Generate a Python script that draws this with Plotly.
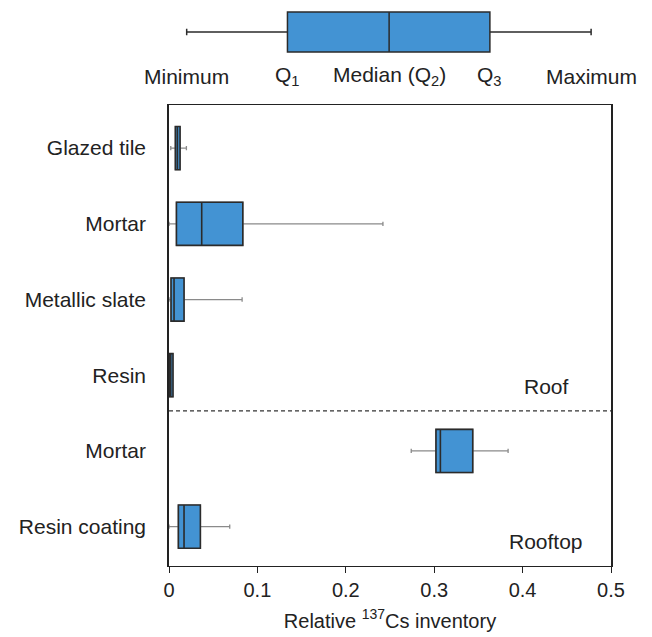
import plotly.graph_objects as go

categories = ["Glazed tile", "Mortar", "Metallic slate", "Resin", "Mortar", "Resin coating"]
q_min = [0.002, 0.000, 0.000, 0.000, 0.274, 0.000]
q1 = [0.0072, 0.0084, 0.0023, 0.0002, 0.302, 0.0106]
median = [0.0095, 0.037, 0.0057, 0.002, 0.307, 0.017]
q3 = [0.0125, 0.0835, 0.0170, 0.0045, 0.3436, 0.0355]
q_max = [0.0197, 0.242, 0.0827, 0.0045, 0.3836, 0.0687]

legend_stats = [0.02, 0.134, 0.249, 0.363, 0.4775]  # min, Q1, median, Q3, max (schematic)
legend_labels = ["Minimum", "Q<sub>1</sub>", "Median (Q<sub>2</sub>)", "Q<sub>3</sub>", "Maximum"]

xticks = [0, 0.1, 0.2, 0.3, 0.4, 0.5]
xtick_text = ["0", "0.1", "0.2", "0.3", "0.4", "0.5"]

BLUE = "#4393d3"
DARK = "#2b2b2b"
GRAY = "#8a8a8a"
TXT = "#222222"
FONT = "Liberation Sans, Arial, sans-serif"

fig = go.Figure()
pos = list(range(len(categories)))

for i in pos:
    # whiskers (gray)
    fig.add_trace(go.Box(
        orientation="h", y=[i], q1=[q1[i]], median=[median[i]], q3=[q3[i]],
        lowerfence=[q_min[i]], upperfence=[q_max[i]], width=0.57, whiskerwidth=0.1,
        fillcolor=BLUE, line=dict(color=GRAY, width=1.3), showlegend=False,
        hoverinfo="skip", xaxis="x", yaxis="y"))
    # box (dark outline)
    fig.add_trace(go.Box(
        orientation="h", y=[i], q1=[q1[i]], median=[median[i]], q3=[q3[i]],
        lowerfence=[q1[i]], upperfence=[q3[i]], width=0.57, whiskerwidth=0,
        fillcolor=BLUE, line=dict(color=DARK, width=1.6), showlegend=False,
        hoverinfo="skip", xaxis="x", yaxis="y"))

# schematic legend box
fig.add_trace(go.Box(
    orientation="h", y=[0], q1=[legend_stats[1]], median=[legend_stats[2]], q3=[legend_stats[3]],
    lowerfence=[legend_stats[0]], upperfence=[legend_stats[4]], width=1.667, whiskerwidth=0.16,
    fillcolor=BLUE, line=dict(color=DARK, width=1.5), showlegend=False,
    hoverinfo="skip", xaxis="x2", yaxis="y2"))

annotations = []
for v, lab in zip(legend_stats, legend_labels):
    annotations.append(dict(x=v, y=0.878, xref="x2", yref="paper", text=lab, showarrow=False,
                            xanchor="center", yanchor="middle",
                            font=dict(size=21, color=TXT, family=FONT)))
annotations.append(dict(x=0.4266, y=3.15, xref="x", yref="y", text="Roof", showarrow=False,
                        font=dict(size=21, color=TXT, family=FONT)))
annotations.append(dict(x=0.4266, y=5.2, xref="x", yref="y", text="Rooftop", showarrow=False,
                        font=dict(size=21, color=TXT, family=FONT)))

fig.update_layout(
    width=652, height=637,
    margin=dict(l=161, r=49, t=0, b=79),
    paper_bgcolor="white", plot_bgcolor="white",
    boxmode="overlay",
    font=dict(family=FONT, size=21, color=TXT),
    xaxis=dict(domain=[0, 1], range=[0, 0.5], tickvals=xticks, ticktext=xtick_text,
               ticks="outside", ticklen=6, tickcolor=TXT, showline=True, linecolor=TXT,
               linewidth=1.3, mirror=True, showgrid=False, zeroline=False, automargin=False,
               title=dict(text="Relative <sup>137</sup>Cs inventory", font=dict(size=20), standoff=13),
               tickfont=dict(size=20), anchor="y"),
    yaxis=dict(domain=[0, 0.8262], range=[5.52, -0.57], tickvals=pos, ticktext=categories,
               ticks="", showline=True, linecolor=TXT, linewidth=1.5, mirror=True,
               showgrid=False, zeroline=False, ticklabelstandoff=17, tickfont=dict(size=21),
               automargin=False, anchor="x"),
    xaxis2=dict(domain=[0, 1], range=[0, 0.5], visible=False, anchor="y2", automargin=False),
    yaxis2=dict(domain=[0.914, 1.0], range=[-1, 1], visible=False, anchor="x2", automargin=False),
    annotations=annotations,
    shapes=[dict(type="line", xref="x", yref="y", x0=0, x1=0.5, y0=3.47, y1=3.47,
                 line=dict(color="#333", width=1.3, dash="4px,3px"))],
)

fig.write_html("out.html")
